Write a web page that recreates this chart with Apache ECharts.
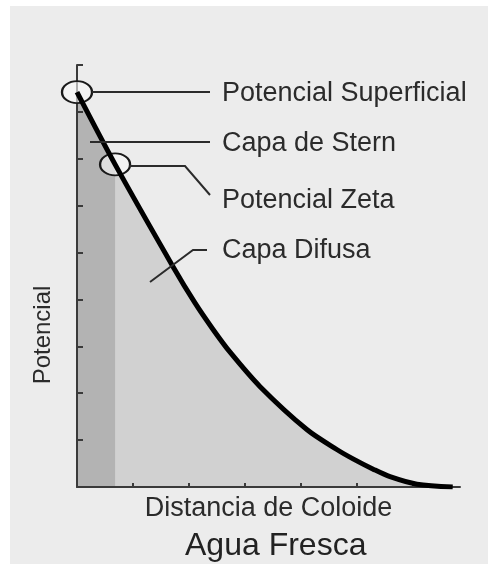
<!DOCTYPE html>
<html>
<head>
<meta charset="utf-8">
<title>Potencial Zeta</title>
<script src="https://cdn.jsdelivr.net/npm/echarts@6/dist/echarts.min.js"></script>
<style>
  html, body { margin: 0; padding: 0; background: #fff; }
  #chart-container { width: 488px; height: 564px; }
</style>
</head>
<body>
<div id="chart-container"></div>
<script>
// curve (distance, potential)
var curveX = [0, 0.68, 1.71, 2.11, 2.43, 2.73, 3.27, 4.11, 4.64, 4.93, 5.29, 5.59, 6.07, 6.71];
var curveY = [8.42, 6.88, 4.71, 3.92, 3.36, 2.88, 2.14, 1.22, 0.80, 0.60, 0.38, 0.22, 0.06, 0];
var sternEnd = 0.68;   // edge of the Stern layer
var xMax = 6.84;
var yMax = 9;
var xTicks = [0, 1, 2, 3, 4, 5, 6];

var labels = ['Potencial Superficial', 'Capa de Stern', 'Potencial Zeta', 'Capa Difusa'];

var curve = curveX.map(function (x, i) { return [x, curveY[i]]; });
var stern = curve.filter(function (p) { return p[0] <= sternEnd; });

var dom = document.getElementById('chart-container');
var myChart = echarts.init(dom, null, { renderer: 'canvas' });

var textFont = '27px "Liberation Sans", Arial, sans-serif';
var ink = '#2b2b2b';

var option = {
  animation: false,
  backgroundColor: 'transparent',
  grid: { left: 77, top: 65, right: 28, bottom: 77 },
  xAxis: {
    type: 'value',
    z: 5,
    min: 0,
    max: xMax,
    interval: 1,
    name: 'Distancia de Coloide',
    nameLocation: 'middle',
    nameGap: 8,
    nameTextStyle: { fontSize: 27, color: ink, fontFamily: 'Liberation Sans' },
    axisLine: { lineStyle: { color: '#3a3a3a', width: 2 } },
    axisTick: { show: true, inside: true, length: 4, customValues: xTicks, lineStyle: { color: '#3a3a3a', width: 2 } },
    axisLabel: { show: false },
    splitLine: { show: false }
  },
  yAxis: {
    type: 'value',
    z: 5,
    min: 0,
    max: yMax,
    interval: 1,
    name: 'Potencial',
    nameLocation: 'middle',
    nameRotate: 90,
    nameGap: 22,
    nameTextStyle: { fontSize: 24, color: ink, fontFamily: 'Liberation Sans', padding: [0, 118, 0, 0] },
    axisLine: { lineStyle: { color: '#3a3a3a', width: 2 } },
    axisTick: { show: true, inside: true, length: 6, lineStyle: { color: '#3a3a3a', width: 2 } },
    axisLabel: { show: false },
    splitLine: { show: false }
  },
  title: {
    text: 'Agua Fresca',
    left: 180,
    top: 525,
    textStyle: { fontSize: 32, fontWeight: 'normal', color: '#222', fontFamily: 'Liberation Sans' }
  },
  graphic: [
    { type: 'rect', z: -10, silent: true, shape: { x: 10, y: 6, width: 478, height: 558 }, style: { fill: '#ececec' } },
    { type: 'line', z: 20, shape: { x1: 92, y1: 92, x2: 210, y2: 92 }, style: { stroke: ink, lineWidth: 2 } },
    { type: 'line', z: 20, shape: { x1: 90, y1: 142, x2: 210, y2: 142 }, style: { stroke: ink, lineWidth: 2 } },
    { type: 'polyline', z: 20, shape: { points: [[129, 166], [185, 166], [210, 195]] }, style: { stroke: ink, lineWidth: 2, fill: null } },
    { type: 'polyline', z: 20, shape: { points: [[150, 282], [193, 250], [207, 250]] }, style: { stroke: ink, lineWidth: 2, fill: null } },
    { type: 'text', z: 20, style: { text: labels[0], x: 222, y: 93.5, font: textFont, fill: ink, verticalAlign: 'middle' } },
    { type: 'text', z: 20, style: { text: labels[1], x: 222, y: 143.5, font: textFont, fill: ink, verticalAlign: 'middle' } },
    { type: 'text', z: 20, style: { text: labels[2], x: 222, y: 200.5, font: textFont, fill: ink, verticalAlign: 'middle' } },
    { type: 'text', z: 20, style: { text: labels[3], x: 222, y: 250.5, font: textFont, fill: ink, verticalAlign: 'middle' } }
  ],
  series: [
    {
      name: 'Capa Difusa',
      type: 'line',
      data: curve,
      smooth: 0.3,
      symbol: 'none',
      lineStyle: { width: 0 },
      areaStyle: { color: '#d1d1d1', opacity: 1 },
      z: 2
    },
    {
      name: 'Capa de Stern',
      type: 'line',
      data: stern,
      symbol: 'none',
      lineStyle: { width: 0 },
      areaStyle: { color: '#b3b3b3', opacity: 1 },
      z: 3,
      markPoint: {
        z: 6,
        symbol: 'circle',
        symbolSize: [30, 22],
        label: { show: false },
        itemStyle: { color: 'rgba(250,250,250,0.6)', borderColor: '#1a1a1a', borderWidth: 2 },
        data: [
          { coord: curve[0] },
          { coord: curve[1] }
        ]
      }
    },
    {
      name: 'Potencial',
      type: 'line',
      data: curve,
      smooth: 0.3,
      symbol: 'none',
      lineStyle: { color: '#000', width: 5 },
      z: 8
    }
  ]
};

if (option && typeof option === 'object') {
  myChart.setOption(option);
}

window.addEventListener('resize', myChart.resize);
</script>
</body>
</html>
